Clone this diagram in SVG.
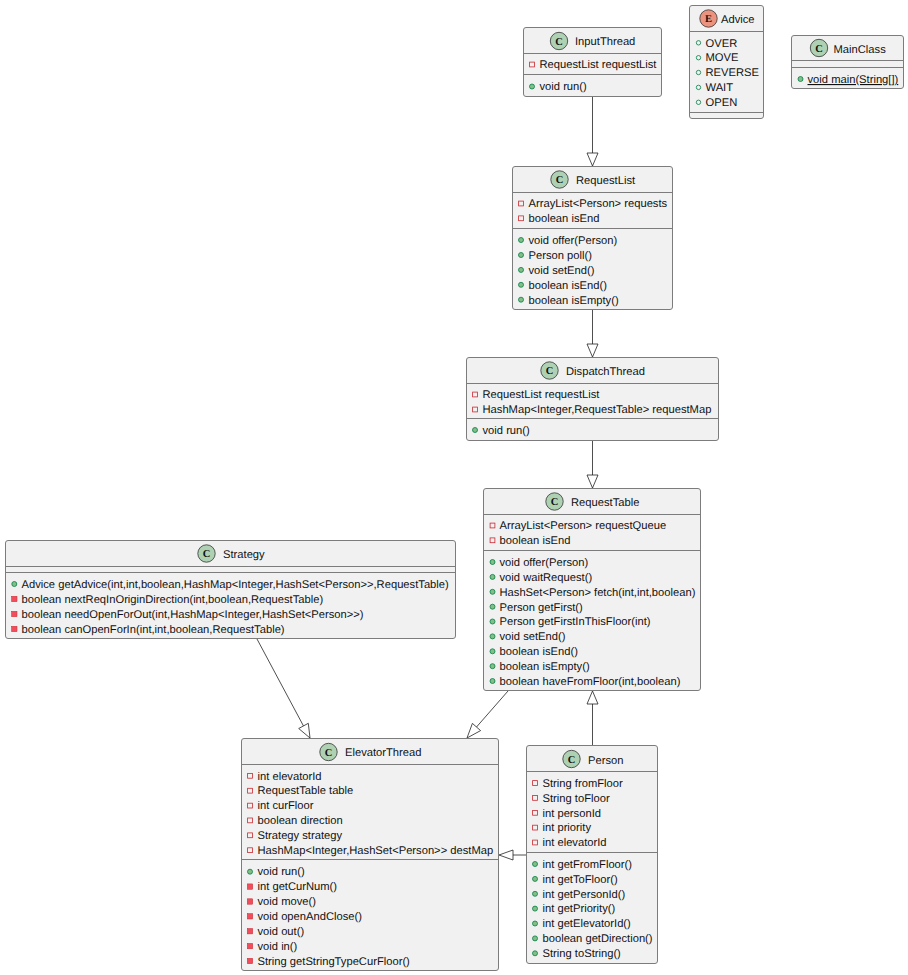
<svg xmlns="http://www.w3.org/2000/svg" width="908" height="975" viewBox="0 0 908 975">
<style>
text{font-family:"Liberation Sans",Arial,sans-serif;font-size:11.2px;fill:#111;text-rendering:geometricPrecision}
.box{fill:#F1F1F1;stroke:#7c7c7c;stroke-width:1}
.sep{stroke:#7c7c7c;stroke-width:1;fill:none}
.ic{fill:#ADD1B2;stroke:#333;stroke-width:.8}
.ie{fill:#EB937F;stroke:#333;stroke-width:.8}
text.g{font-family:"Liberation Serif",serif;font-weight:bold;font-size:10.5px;text-anchor:middle}
.edge{stroke:#222;stroke-width:.8;fill:none}
.head{stroke:#222;stroke-width:.8;fill:#fff}
</style>
<defs>
<rect id="pf" x="-2.4" y="-2.4" width="4.8" height="4.8" fill="none" stroke="#C82930" stroke-width=".8"/>
<rect id="pm" x="-2.7" y="-2.7" width="5.4" height="5.4" fill="#F24D5C" stroke="#C82930" stroke-width=".5"/>
<circle id="um" r="2.5" fill="#84BE84" stroke="#038048" stroke-width=".8"/>
<circle id="uf" r="2.2" fill="none" stroke="#038048" stroke-width=".8"/>
</defs>
<rect width="908" height="975" fill="#fff"/>
<g id="connectors">
<path class="edge" d="M592.5 97V153"/><polygon class="head" points="592.5,166 587,153 598,153"/>
<path class="edge" d="M592.5 310V344"/><polygon class="head" points="592.5,357 587,344 598,344"/>
<path class="edge" d="M592.5 441V475"/><polygon class="head" points="592.5,488 587,475 598,475"/>
<path class="edge" d="M257 639L303.500 726"/><polygon class="head" points="310,738 298.700,728.500 308.300,723.300"/>
<path class="edge" d="M508 691L476.500 727"/><polygon class="head" points="467,738 472.400,723.400 480.600,730.600"/>
<path class="edge" d="M592.500 745V704"/><polygon class="head" points="592.500,691 587,704 598,704"/>
<path class="edge" d="M526 855H513"/><polygon class="head" points="499,855 513,850 513,860"/>
</g>
<g id="InputThread">
<rect class="box" x="523.5" y="27.500" width="138" height="69" rx="2.500"/><path class="sep" d="M523.500 53.500H661.500M523.500 74.500H661.500"/>
<circle class="ic" cx="559" cy="41" r="8.700"/><text class="g" x="559" y="44.600">C</text>
<text x="575" y="45">InputThread</text>
<use href="#pf" x="532" y="64.500"/><text x="539.500" y="68.300">RequestList requestList</text>
<use href="#um" x="532" y="86.500"/><text x="539.500" y="90.300">void run()</text>
</g>
<g id="Advice">
<rect class="box" x="689.5" y="5.500" width="74" height="113" rx="2.500"/><path class="sep" d="M689.500 31.500H763.500M689.500 112.500H763.500"/>
<circle class="ie" cx="708.500" cy="18.500" r="8.700"/><text class="g" x="708.500" y="22.100">E</text>
<text x="721" y="23">Advice</text>
<use href="#uf" x="698.500" y="42.800"/><text x="705.500" y="46.500">OVER</text>
<use href="#uf" x="698.500" y="57.700"/><text x="705.500" y="61.400">MOVE</text>
<use href="#uf" x="698.500" y="72.500"/><text x="705.500" y="76.200">REVERSE</text>
<use href="#uf" x="698.500" y="87.400"/><text x="705.500" y="91.100">WAIT</text>
<use href="#uf" x="698.500" y="102.300"/><text x="705.500" y="106">OPEN</text>
</g>
<g id="MainClass">
<rect class="box" x="791.5" y="35.500" width="112" height="53" rx="2.500"/><path class="sep" d="M791.500 60.500H903.500M791.500 67.500H903.500"/>
<circle class="ic" cx="819" cy="48" r="8.700"/><text class="g" x="819" y="51.600">C</text>
<text x="833.500" y="52.500">MainClass</text>
<use href="#um" x="800.500" y="79"/><text x="807.500" y="83" text-decoration="underline">void main(String[])</text>
</g>
<g id="RequestList">
<rect class="box" x="512.5" y="166.500" width="160" height="143" rx="2.500"/><path class="sep" d="M512.500 192.500H672.500M512.500 228.500H672.500"/>
<circle class="ic" cx="559.500" cy="179.500" r="8.700"/><text class="g" x="559.500" y="183.100">C</text>
<text x="576" y="184">RequestList</text>
<use href="#pf" x="521" y="203.500"/><text x="528.500" y="207.300">ArrayList&lt;Person&gt; requests</text>
<use href="#pf" x="521" y="218.300"/><text x="528.500" y="222.100">boolean isEnd</text>
<use href="#um" x="521" y="240"/><text x="528.500" y="243.800">void offer(Person)</text>
<use href="#um" x="521" y="255"/><text x="528.500" y="258.800">Person poll()</text>
<use href="#um" x="521" y="269.900"/><text x="528.500" y="273.700">void setEnd()</text>
<use href="#um" x="521" y="284.800"/><text x="528.500" y="288.600">boolean isEnd()</text>
<use href="#um" x="521" y="299.700"/><text x="528.500" y="303.500">boolean isEmpty()</text>
</g>
<g id="DispatchThread">
<rect class="box" x="466.5" y="357.500" width="252" height="83" rx="2.500"/><path class="sep" d="M466.500 383.500H718.500M466.500 418.500H718.500"/>
<circle class="ic" cx="549.500" cy="370.500" r="8.700"/><text class="g" x="549.500" y="374.100">C</text>
<text x="566" y="375">DispatchThread</text>
<use href="#pf" x="475" y="394.500"/><text x="482.500" y="398.300">RequestList requestList</text>
<use href="#pf" x="475" y="409.500"/><text x="482.500" y="413.300">HashMap&lt;Integer,RequestTable&gt; requestMap</text>
<use href="#um" x="475" y="430"/><text x="482.500" y="433.800">void run()</text>
</g>
<g id="RequestTable">
<rect class="box" x="483.5" y="488.500" width="217" height="202" rx="2.500"/><path class="sep" d="M483.500 514.500H700.500M483.500 550.500H700.500"/>
<circle class="ic" cx="554.500" cy="501.500" r="8.700"/><text class="g" x="554.500" y="505.100">C</text>
<text x="571" y="506">RequestTable</text>
<use href="#pf" x="492.500" y="525.500"/><text x="499.500" y="529.300">ArrayList&lt;Person&gt; requestQueue</text>
<use href="#pf" x="492.500" y="540.300"/><text x="499.500" y="544.100">boolean isEnd</text>
<use href="#um" x="492.500" y="562"/><text x="499.500" y="565.800">void offer(Person)</text>
<use href="#um" x="492.500" y="576.900"/><text x="499.500" y="580.700">void waitRequest()</text>
<use href="#um" x="492.500" y="591.800"/><text x="499.500" y="595.600">HashSet&lt;Person&gt; fetch(int,int,boolean)</text>
<use href="#um" x="492.500" y="606.700"/><text x="499.500" y="610.500">Person getFirst()</text>
<use href="#um" x="492.500" y="621.500"/><text x="499.500" y="625.300">Person getFirstInThisFloor(int)</text>
<use href="#um" x="492.500" y="636.400"/><text x="499.500" y="640.200">void setEnd()</text>
<use href="#um" x="492.500" y="651.300"/><text x="499.500" y="655.100">boolean isEnd()</text>
<use href="#um" x="492.500" y="666.200"/><text x="499.500" y="670">boolean isEmpty()</text>
<use href="#um" x="492.500" y="681"/><text x="499.500" y="684.800">boolean haveFromFloor(int,boolean)</text>
</g>
<g id="Strategy">
<rect class="box" x="5.500" y="540.500" width="450" height="98" rx="2.500"/><path class="sep" d="M5.500 566.500H455.500M5.500 572.500H455.500"/>
<circle class="ic" cx="206.500" cy="553.500" r="8.700"/><text class="g" x="206.500" y="557.100">C</text>
<text x="223" y="558">Strategy</text>
<use href="#um" x="14.300" y="584"/><text x="21.500" y="587.800">Advice getAdvice(int,int,boolean,HashMap&lt;Integer,HashSet&lt;Person&gt;&gt;,RequestTable)</text>
<use href="#pm" x="14.300" y="599"/><text x="21.500" y="602.800">boolean nextReqInOriginDirection(int,boolean,RequestTable)</text>
<use href="#pm" x="14.300" y="614"/><text x="21.500" y="617.800">boolean needOpenForOut(int,HashMap&lt;Integer,HashSet&lt;Person&gt;&gt;)</text>
<use href="#pm" x="14.300" y="629"/><text x="21.500" y="632.800">boolean canOpenForIn(int,int,boolean,RequestTable)</text>
</g>
<g id="ElevatorThread">
<rect class="box" x="241.500" y="738.500" width="257" height="232" rx="2.500"/><path class="sep" d="M241.500 764.500H498.500M241.500 859.500H498.500"/>
<circle class="ic" cx="328.500" cy="752" r="8.700"/><text class="g" x="328.500" y="755.600">C</text>
<text x="345" y="756">ElevatorThread</text>
<use href="#pf" x="250" y="775.800"/><text x="257.500" y="779.500">int elevatorId</text>
<use href="#pf" x="250" y="790.700"/><text x="257.500" y="794.400">RequestTable table</text>
<use href="#pf" x="250" y="805.600"/><text x="257.500" y="809.300">int curFloor</text>
<use href="#pf" x="250" y="820.400"/><text x="257.500" y="824.100">boolean direction</text>
<use href="#pf" x="250" y="835.300"/><text x="257.500" y="839">Strategy strategy</text>
<use href="#pf" x="250" y="850.200"/><text x="257.500" y="853.900">HashMap&lt;Integer,HashSet&lt;Person&gt;&gt; destMap</text>
<use href="#um" x="250" y="871.700"/><text x="257.500" y="875.400">void run()</text>
<use href="#pm" x="250" y="886.600"/><text x="257.500" y="890.300">int getCurNum()</text>
<use href="#pm" x="250" y="901.500"/><text x="257.500" y="905.200">void move()</text>
<use href="#pm" x="250" y="916.300"/><text x="257.500" y="920">void openAndClose()</text>
<use href="#pm" x="250" y="931.200"/><text x="257.500" y="934.900">void out()</text>
<use href="#pm" x="250" y="946.100"/><text x="257.500" y="949.800">void in()</text>
<use href="#pm" x="250" y="961"/><text x="257.500" y="964.700">String getStringTypeCurFloor()</text>
</g>
<g id="Person">
<rect class="box" x="526.500" y="745.500" width="131" height="218" rx="2.500"/><path class="sep" d="M526.500 771.500H657.500M526.500 852.500H657.500"/>
<circle class="ic" cx="571.500" cy="759" r="8.700"/><text class="g" x="571.500" y="762.600">C</text>
<text x="588" y="763.500">Person</text>
<use href="#pf" x="535" y="783"/><text x="542.500" y="786.800">String fromFloor</text>
<use href="#pf" x="535" y="797.900"/><text x="542.500" y="801.700">String toFloor</text>
<use href="#pf" x="535" y="812.800"/><text x="542.500" y="816.600">int personId</text>
<use href="#pf" x="535" y="827.600"/><text x="542.500" y="831.400">int priority</text>
<use href="#pf" x="535" y="842.500"/><text x="542.500" y="846.300">int elevatorId</text>
<use href="#um" x="535" y="864"/><text x="542.500" y="867.800">int getFromFloor()</text>
<use href="#um" x="535" y="878.900"/><text x="542.500" y="882.700">int getToFloor()</text>
<use href="#um" x="535" y="893.800"/><text x="542.500" y="897.600">int getPersonId()</text>
<use href="#um" x="535" y="908.600"/><text x="542.500" y="912.400">int getPriority()</text>
<use href="#um" x="535" y="923.500"/><text x="542.500" y="927.300">int getElevatorId()</text>
<use href="#um" x="535" y="938.400"/><text x="542.500" y="942.200">boolean getDirection()</text>
<use href="#um" x="535" y="953.300"/><text x="542.500" y="957.100">String toString()</text>
</g>
</svg>
